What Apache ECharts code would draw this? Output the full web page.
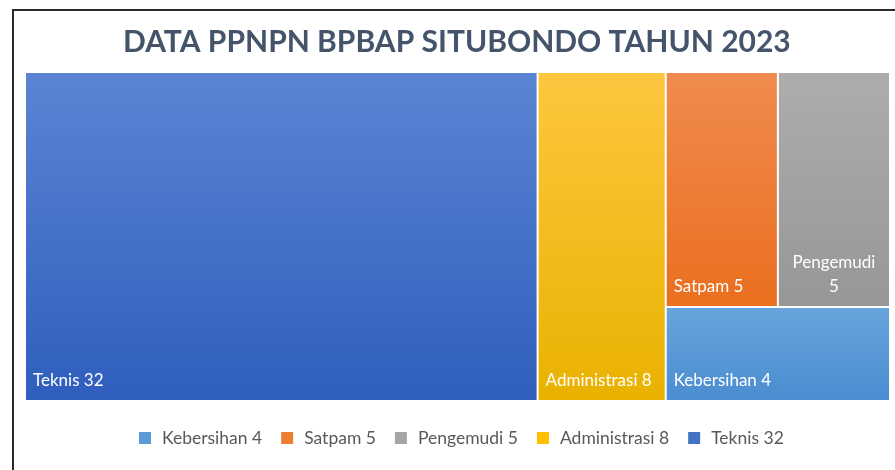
<!DOCTYPE html>
<html>
<head>
<meta charset="utf-8">
<title>DATA PPNPN BPBAP SITUBONDO TAHUN 2023</title>
<script src="https://cdn.jsdelivr.net/npm/echarts@6/dist/echarts.min.js"></script>
<style>
  html, body { margin: 0; padding: 0; background: #fff; overflow: hidden; }
  #chart { position: absolute; left: 0; top: 0; width: 895px; height: 470px; }
</style>
</head>
<body>
<div id="chart"></div>
<script>
// data
const categories = ['Teknis', 'Administrasi', 'Satpam', 'Pengemudi', 'Kebersihan'];
const values = [32, 8, 5, 5, 4];
// colours per category (top / bottom of the gradient, legend colour)
const topColors = ['#5b84d3', '#fec63f', '#f08b4f', '#adadad', '#67a4dd'];
const bottomColors = ['#2f5ebd', '#e9b200', '#ea6f1f', '#979797', '#4a8dd0'];
const legendColors = ['#4472c4', '#ffc000', '#ed7d31', '#a5a5a5', '#5b9bd5'];

const font = 'Lato, "Open Sans", sans-serif';

function grad(i) {
  return {
    type: 'linear', x: 0, y: 0, x2: 0, y2: 1,
    colorStops: [
      { offset: 0, color: topColors[i] },
      { offset: 1, color: bottomColors[i] }
    ]
  };
}

function leaf(i) {
  let node = {
    name: categories[i],
    value: values[i],
    itemStyle: { color: grad(i), borderColor: '#fff', borderWidth: 1 }
  };
  // Pengemudi label wraps in the original
  if (categories[i] === 'Pengemudi') {
    node.label = { formatter: '{b}\n{c}', position: 'insideBottom', align: 'center' };
  }
  return node;
}

// grouping so the squarify layout matches the excel one
const tree = [
  { name: 'g1', children: [leaf(0), leaf(1)] },
  { name: 'g2', children: [
      { name: 'g3', children: [leaf(2), leaf(3)] },
      leaf(4)
  ] }
];

// legend goes ascending like excel
const legendIdx = categories.map((c, i) => i).sort((a, b) => values[a] - values[b]);
const legendNames = legendIdx.map(i => categories[i] + ' ' + values[i]);

let Chart = echarts.init(document.getElementById('chart'));

let series = [{
  type: 'treemap',
  left: 25,
  top: 72,
  width: 865,
  height: 329,
  roam: false,
  nodeClick: false,
  sort: false,
  animation: false,
  breadcrumb: { show: false },
  itemStyle: { borderWidth: 0, gapWidth: 0, borderColor: '#fff' },
  label: {
    show: true,
    position: 'insideBottomLeft',
    distance: 2,
    formatter: '{b} {c}',
    color: '#fff',
    fontSize: 17,
    fontFamily: font,
    lineHeight: 24
  },
  data: tree
}];

// empty bars just to feed the legend
legendIdx.forEach(function (i, k) {
  series.push({
    type: 'bar',
    name: legendNames[k],
    data: [],
    itemStyle: { color: legendColors[i] }
  });
});

Chart.setOption({
  animation: false,
  title: {
    text: 'DATA PPNPN BPBAP SITUBONDO TAHUN 2023',
    left: 118,
    top: 22,
    textStyle: {
      color: '#44546a',
      fontSize: 30,
      fontWeight: 'bold',
      fontFamily: font
    }
  },
  legend: {
    data: legendNames,
    left: 139,
    top: 429,
    padding: 0,
    icon: 'rect',
    itemWidth: 12,
    itemHeight: 12,
    itemGap: 19,
    selectedMode: false,
    textStyle: { color: '#595959', fontSize: 17.5, fontFamily: font, padding: [0, 0, 0, 6] }
  },
  grid: { left: 0, top: 0, width: 1, height: 1, show: false },
  xAxis: { show: false, type: 'category', data: [] },
  yAxis: { show: false, type: 'value' },
  // thin dark frame on the left and top, like the cropped screenshot
  graphic: [
    { type: 'rect', left: 12, top: 9, shape: { width: 2, height: 461 }, style: { fill: '#2a2a2a' }, silent: true },
    { type: 'rect', left: 12, top: 9, shape: { width: 883, height: 2 }, style: { fill: '#2a2a2a' }, silent: true }
  ],
  series: series
});
</script>
</body>
</html>
